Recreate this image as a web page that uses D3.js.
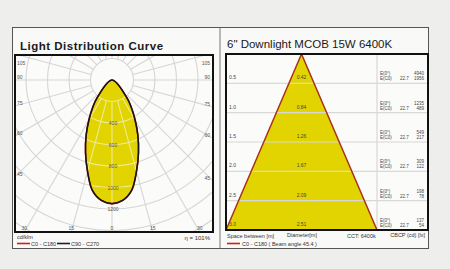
<!DOCTYPE html>
<html>
<head>
<meta charset="utf-8">
<script src="https://cdnjs.cloudflare.com/ajax/libs/d3/7.8.5/d3.min.js"></script>
<style>
  html, body { margin: 0; padding: 0; background: #eeeeec; }
  svg { display: block; font-family: "Liberation Sans", Arial, sans-serif; }
</style>
</head>
<body>
<div class="chart"></div>
<script>
// polar curve data (cd/klm, angle from nadir)
var angles = [0, 5, 10, 15, 20, 25, 30, 35, 40, 45, 50, 55, 60, 65, 70, 75, 80, 85, 90];
var c0c180 = [1150, 1125, 1045, 880, 720, 570, 430, 315, 215, 0, 0, 0, 0, 0, 0, 0, 0, 0, 0];
var c90c270 = [1150, 1125, 1045, 880, 720, 570, 430, 315, 215, 0, 0, 0, 0, 0, 0, 0, 0, 0, 0];
var ringValues = [200, 400, 600, 800, 1000, 1200, 1400, 1600, 1800];
var ringLabels = [400, 600, 800, 1000, 1200];
var angleLabels = [105, 90, 75, 60, 45, 30, 15];

// beam table data
var distances = [0.5, 1.0, 1.5, 2.0, 2.5, 3.0];
var diameters = ["0.42", "0.84", "1.26", "1.67", "2.09", "2.51"];
var halfAngle = "22.7";
var eMax = [4940, 1235, 549, 309, 198, 137];
var eAvg = [1956, 489, 217, 122, 78, 54];

var svgWidth = 450, svgHeight = 269;
var svg = d3.select(".chart").append("svg")
    .attr("width", svgWidth)
    .attr("height", svgHeight);

// outer card
svg.append("rect").attr("x", 12.5).attr("y", 27.5).attr("width", 416).attr("height", 221)
    .attr("fill", "#f9f9f8").attr("stroke", "#555").attr("stroke-width", 1);
svg.append("line").attr("x1", 220).attr("x2", 220).attr("y1", 27.5).attr("y2", 248.5)
    .attr("stroke", "#777").attr("stroke-width", 1);

// ---------- left panel: light distribution curve ----------
svg.append("text").attr("x", 20).attr("y", 50)
    .attr("font-size", 11.5).attr("font-weight", "bold").attr("letter-spacing", 0.5)
    .attr("fill", "#1a1a1a").text("Light Distribution Curve");

var box = { x0: 15, y0: 55, x1: 213, y1: 232 };
var cx = 112, cy = 80;
var r = d3.scaleLinear().domain([0, 1200]).range([0, 129]);

svg.append("clipPath").attr("id", "boxClip").append("rect")
    .attr("x", box.x0).attr("y", box.y0).attr("width", box.x1 - box.x0).attr("height", box.y1 - box.y0);

svg.append("rect").attr("x", box.x0).attr("y", box.y0)
    .attr("width", box.x1 - box.x0).attr("height", box.y1 - box.y0).attr("fill", "#fbfbfa");

var polar = svg.append("g").attr("clip-path", "url(#boxClip)");
var grid = polar.append("g").attr("transform", `translate(${cx},${cy})`);

function drawGrid(g, color, width) {
    g.selectAll("circle.ring")
        .data(ringValues)
        .enter()
        .append("circle")
        .attr("class", "ring")
        .attr("r", d => r(d))
        .attr("fill", "none")
        .attr("stroke", color)
        .attr("stroke-width", width);
    g.selectAll("line.spoke")
        .data(d3.range(0, 360, 15))
        .enter()
        .append("line")
        .attr("class", "spoke")
        .attr("x1", d => r(200) * Math.sin(d * Math.PI / 180))
        .attr("y1", d => r(200) * Math.cos(d * Math.PI / 180))
        .attr("x2", d => 300 * Math.sin(d * Math.PI / 180))
        .attr("y2", d => 300 * Math.cos(d * Math.PI / 180))
        .attr("stroke", color)
        .attr("stroke-width", width);
}
drawGrid(grid, "#d6d6d6", 1.1);

// curve, mirrored about nadir; the zero-intensity angles collapse into one point at the centre
function curvePoints(vals) {
    var pts = [];
    for (var i = angles.length - 1; i >= 0; i--) if (vals[i] > 0) pts.push({ a: -angles[i], v: vals[i] });
    for (var j = 1; j < angles.length; j++) if (vals[j] > 0) pts.push({ a: angles[j], v: vals[j] });
    pts.push({ a: 180, v: 0 });
    return pts;
}
var radial = d3.lineRadial()
    .angle(d => Math.PI - d.a * Math.PI / 180)
    .radius(d => r(d.v))
    .curve(d3.curveCatmullRomClosed.alpha(0.5));

var curveD = radial(curvePoints(c0c180));
svg.append("clipPath").attr("id", "curveClip").append("path")
    .attr("d", curveD).attr("transform", `translate(${cx},${cy})`);

grid.append("path").attr("d", curveD).attr("fill", "#e2d400");
var inner = polar.append("g").attr("clip-path", "url(#curveClip)")
    .append("g").attr("transform", `translate(${cx},${cy})`);
drawGrid(inner, "#efe994", 1.1);

var overlay = polar.append("g").attr("transform", `translate(${cx},${cy})`);
overlay.append("path").attr("d", curveD).attr("fill", "none")
    .attr("stroke", "#c0281c").attr("stroke-width", 1.6);
overlay.append("path").attr("d", radial(curvePoints(c90c270))).attr("fill", "none")
    .attr("stroke", "#141414").attr("stroke-width", 1.5).attr("stroke-linejoin", "round");

// ring labels
overlay.selectAll("text.ring")
    .data(ringLabels)
    .enter()
    .append("text")
    .attr("x", 1)
    .attr("y", d => r(d) + 2)
    .attr("text-anchor", "middle")
    .attr("font-size", 5)
    .attr("fill", "#555")
    .text(d => d);

// angle labels along the border
function labelPos(a, side) {
    var rad = a * Math.PI / 180;
    var sx = Math.sin(rad) * side, cyy = Math.cos(rad);
    var tx = side < 0 ? (box.x0 - cx) / sx : (box.x1 - cx) / sx;
    var yHit = cy + tx * cyy;
    if (yHit <= box.y1) {
        return { x: side < 0 ? box.x0 + 2 : box.x1 - 3, y: Math.max(box.y0 + 10, yHit - 1), anchor: side < 0 ? "start" : "end" };
    }
    var ty = (box.y1 - cy) / cyy;
    return { x: cx + ty * sx, y: box.y1 - 2, anchor: "middle" };
}
var angleItems = [];
angleLabels.forEach(function (a) {
    angleItems.push({ a: a, p: labelPos(a, -1) });
    angleItems.push({ a: a, p: labelPos(a, 1) });
});
angleItems.push({ a: 0, p: { x: cx, y: box.y1 - 2, anchor: "middle" } });
svg.selectAll("text.ang")
    .data(angleItems)
    .enter()
    .append("text")
    .attr("x", d => d.p.x)
    .attr("y", d => d.p.y)
    .attr("text-anchor", d => d.p.anchor)
    .attr("font-size", 5)
    .attr("fill", "#555")
    .text(d => d.a);

svg.append("rect").attr("x", box.x0).attr("y", box.y0)
    .attr("width", box.x1 - box.x0).attr("height", box.y1 - box.y0)
    .attr("fill", "none").attr("stroke", "#111").attr("stroke-width", 2);

// left footer
svg.append("text").attr("x", 17).attr("y", 239).attr("font-size", 5.5).attr("fill", "#333").text("cd/klm");
var leftLegend = [
    { name: "C0 - C180", color: "#c8201c", x: 17 },
    { name: "C90 - C270", color: "#1a1a40", x: 57 }
];
leftLegend.forEach(function (d) {
    svg.append("line").attr("x1", d.x).attr("x2", d.x + 13).attr("y1", 243.5).attr("y2", 243.5)
        .attr("stroke", d.color).attr("stroke-width", 1.6);
    svg.append("text").attr("x", d.x + 14).attr("y", 245.5).attr("font-size", 5.5).attr("fill", "#333").text(d.name);
});
svg.append("text").attr("x", 210).attr("y", 240).attr("text-anchor", "end")
    .attr("font-size", 6).attr("fill", "#333").text("η = 101%");

// ---------- right panel: beam diagram ----------
svg.append("text").attr("x", 227).attr("y", 48)
    .attr("font-size", 11.5).attr("fill", "#1a1a1a").text("6\" Downlight MCOB 15W  6400K");

var rbox = { x0: 226, y0: 54, x1: 428, y1: 230 };
var colX = 377;
var xScale = d3.scaleLinear().domain([-1.255, 1.255]).range([rbox.x0, colX]);
var yScale = d3.scaleLinear().domain([0, 3]).range([rbox.y0, rbox.y1]);

svg.append("rect").attr("x", rbox.x0).attr("y", rbox.y0)
    .attr("width", rbox.x1 - rbox.x0).attr("height", rbox.y1 - rbox.y0).attr("fill", "#fbfbfa");

var lastDia = +diameters[diameters.length - 1];
var lastDist = distances[distances.length - 1];
var tri = [[0, 0], [-lastDia / 2, lastDist], [lastDia / 2, lastDist]];
svg.append("path")
    .attr("d", d3.line().x(d => xScale(d[0])).y(d => yScale(d[1]))(tri) + "Z")
    .attr("fill", "#e2d400");

// row lines
svg.selectAll("line.row")
    .data(distances.slice(0, -1))
    .enter()
    .append("line")
    .attr("class", "row")
    .attr("x1", rbox.x0).attr("x2", rbox.x1)
    .attr("y1", d => yScale(d)).attr("y2", d => yScale(d))
    .attr("stroke", "#d8d8d8").attr("stroke-width", 1.2);
svg.append("line").attr("x1", colX).attr("x2", colX).attr("y1", rbox.y0).attr("y2", rbox.y1)
    .attr("stroke", "#d8d8d8").attr("stroke-width", 1.2);

svg.append("path")
    .attr("d", d3.line().x(d => xScale(d[0])).y(d => yScale(d[1]))(tri) + "Z")
    .attr("fill", "none").attr("stroke", "#a8321a").attr("stroke-width", 1.5)
    .attr("stroke-linejoin", "round");

svg.selectAll("text.dist")
    .data(distances)
    .enter()
    .append("text")
    .attr("x", rbox.x0 + 3)
    .attr("y", d => yScale(d) - 4)
    .attr("font-size", 5)
    .attr("fill", "#444")
    .text(d => d.toFixed(1));

svg.selectAll("text.dia")
    .data(diameters)
    .enter()
    .append("text")
    .attr("x", xScale(0))
    .attr("y", (d, i) => yScale(distances[i]) - 4)
    .attr("text-anchor", "middle")
    .attr("font-size", 5)
    .attr("fill", "#444")
    .text(d => d);

distances.forEach(function (dv, i) {
    var yb = yScale(dv);
    var g = svg.append("g").attr("font-size", 4.5).attr("fill", "#444");
    g.append("text").attr("x", colX + 3).attr("y", yb - 8).text("E(0°)");
    g.append("text").attr("x", colX + 3).attr("y", yb - 3).text("E(C0)");
    g.append("text").attr("x", colX + 23).attr("y", yb - 3).text(halfAngle);
    g.append("text").attr("x", rbox.x1 - 4).attr("y", yb - 8).attr("text-anchor", "end").text(eMax[i]);
    g.append("text").attr("x", rbox.x1 - 4).attr("y", yb - 3).attr("text-anchor", "end").text(eAvg[i]);
});

svg.append("rect").attr("x", rbox.x0).attr("y", rbox.y0)
    .attr("width", rbox.x1 - rbox.x0).attr("height", rbox.y1 - rbox.y0)
    .attr("fill", "none").attr("stroke", "#111").attr("stroke-width", 2);

// right footer
var footer = svg.append("g").attr("font-size", 5.5).attr("fill", "#333");
footer.append("text").attr("x", 227).attr("y", 238).text("Space between [m]");
footer.append("text").attr("x", 287).attr("y", 237).text("Diameter[m]");
footer.append("text").attr("x", 347).attr("y", 238).text("CCT: 6400k");
footer.append("text").attr("x", 425).attr("y", 237).attr("text-anchor", "end").text("CBCP (cd) [lx]");
svg.append("line").attr("x1", 227).attr("x2", 240).attr("y1", 243.5).attr("y2", 243.5)
    .attr("stroke", "#c8201c").attr("stroke-width", 1.6);
footer.append("text").attr("x", 242).attr("y", 245.5).text("C0 - C180 ( Beam angle 45.4 )");
</script>
</body>
</html>
